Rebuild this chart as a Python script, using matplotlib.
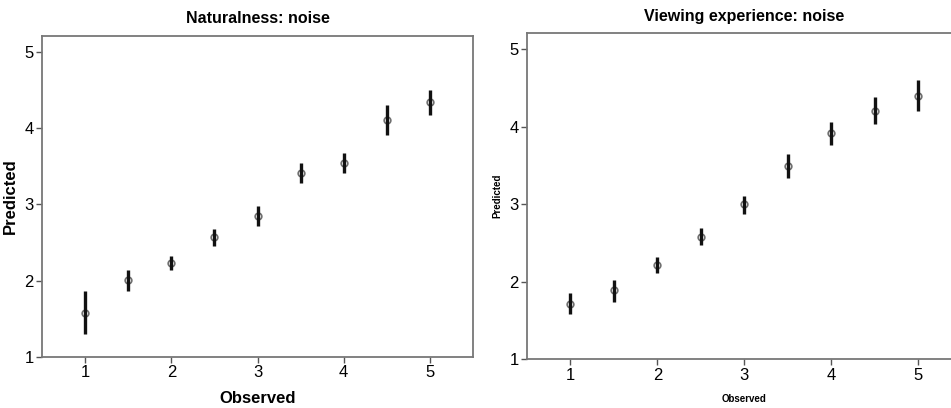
import matplotlib
matplotlib.use("Agg")
import matplotlib.pyplot as plt

plt.rcParams['font.family'] = ['Liberation Sans', 'DejaVu Sans']

observed = [1, 1.5, 2, 2.5, 3, 3.5, 4, 4.5, 5]

# Naturalness: predicted mean with lower/upper interval bounds
nat_mean = [1.58, 2.01, 2.23, 2.57, 2.85, 3.41, 3.55, 4.11, 4.34]
nat_low = [1.30, 1.87, 2.14, 2.45, 2.72, 3.28, 3.41, 3.91, 4.17]
nat_high = [1.86, 2.14, 2.32, 2.68, 2.98, 3.54, 3.68, 4.31, 4.50]

# Viewing experience: predicted mean with lower/upper interval bounds
view_mean = [1.71, 1.89, 2.22, 2.58, 3.00, 3.49, 3.92, 4.21, 4.40]
view_low = [1.58, 1.74, 2.11, 2.47, 2.88, 3.34, 3.77, 4.03, 4.20]
view_high = [1.85, 2.02, 2.32, 2.70, 3.11, 3.65, 4.06, 4.38, 4.60]

x_ticks = [1, 2, 3, 4, 5]
y_ticks = [1, 2, 3, 4, 5]

fig = plt.figure(figsize=(9.51, 4.08), dpi=100)
ax1 = fig.add_axes([0.0442, 0.125, 0.4532, 0.7868])
ax2 = fig.add_axes([0.5542, 0.1194, 0.4569, 0.7997])

panels = [
    (ax1, "Naturalness: noise", nat_mean, nat_low, nat_high, 12, 12),
    (ax2, "Viewing experience: noise", view_mean, view_low, view_high, 7, 7),
]

for ax, title, mean, low, high, ylab_size, xlab_size in panels:
    yerr = [[m - lo for m, lo in zip(mean, low)],
            [hi - m for m, hi in zip(mean, high)]]
    ax.plot(observed, mean, linestyle='none', marker='o', markersize=4.8,
            markerfacecolor='none', markeredgecolor='#707070',
            markeredgewidth=1.2, zorder=2)
    ax.errorbar(observed, mean, yerr=yerr, fmt='none', ecolor='#111111',
                elinewidth=2.4, capsize=0, zorder=3)
    ax.set_xlim(0.5, 5.5)
    ax.set_ylim(1, 5.21)
    ax.set_xticks(x_ticks)
    ax.set_yticks(y_ticks)
    ax.tick_params(axis='both', direction='out', length=4, width=1,
                   color='#555555', labelsize=12, pad=2)
    for sp in ax.spines.values():
        sp.set_color('#777777')
        sp.set_linewidth(1.3)
    ax.set_title(title, fontsize=11.5, fontweight='bold', pad=9)
    ax.set_ylabel("Predicted", fontsize=ylab_size, fontweight='bold', labelpad=5)
    ax.set_xlabel("Observed", fontsize=xlab_size, fontweight='bold', labelpad=8)

fig.savefig("out.png", dpi=100)
